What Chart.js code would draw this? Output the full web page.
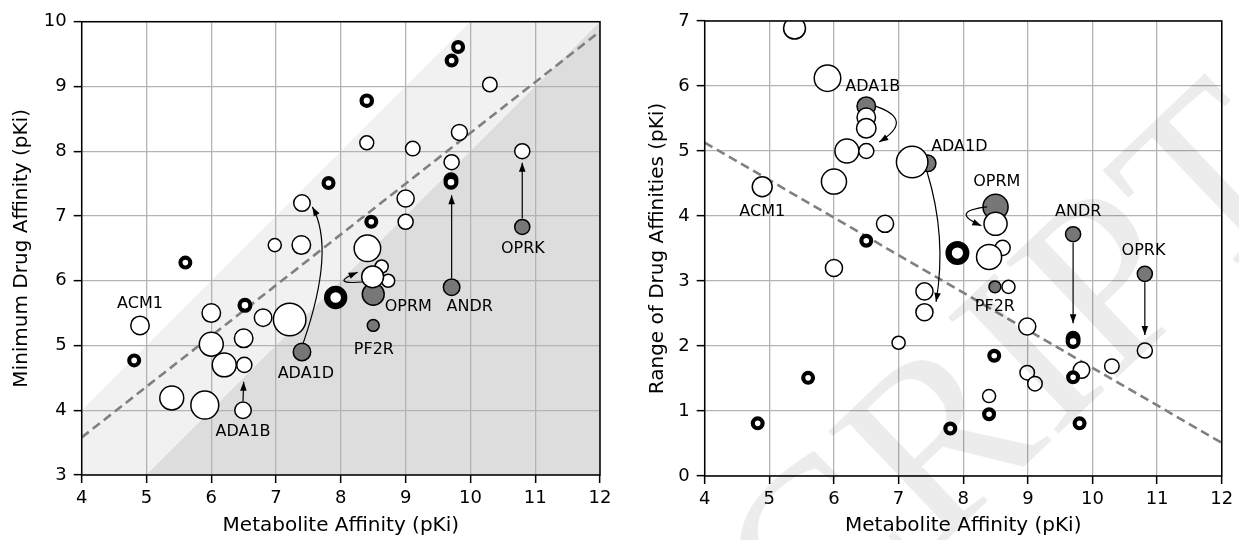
<!DOCTYPE html>
<html lang="en">
<head>
<meta charset="UTF-8" />
<title>Metabolite vs drug affinity</title>
<script src="https://cdn.jsdelivr.net/npm/chart.js@4.4.1/dist/chart.umd.min.js"></script>
<style>
  body { margin: 0; background: #fff; }
  .panel { position: absolute; top: 0; height: 540px; }
  #left { left: 0; width: 620px; }
  #right { left: 620px; width: 619px; }
</style>
</head>
<body>
<div class="panel" id="left"><canvas id="minChart" width="620" height="540"></canvas></div>
<div class="panel" id="right"><canvas id="rangeChart" width="619" height="540"></canvas></div>
<script>
// ---- left panel: metabolite pKi vs minimum drug pKi ----
// g = annotated receptor (grey), w = open circle, b = heavy ring, t = very heavy ring
const metabL = [7.40, 8.50, 8.50, 9.71, 10.80,
  4.90, 5.39, 5.90, 6.00, 6.00, 6.20, 6.51, 6.50, 6.49, 6.80,
  7.21, 6.98, 7.39, 7.40, 8.41, 8.63, 8.73, 8.49, 9.00, 9.00,
  8.40, 9.11, 9.83, 9.71, 10.30, 10.80,
  4.81, 5.60, 6.52, 7.81, 8.47, 8.40, 9.70, 9.70, 9.71, 9.81,
  7.92];
const minDrug = [4.90, 5.79, 5.31, 5.90, 6.83,
  5.31, 4.19, 4.08, 5.50, 5.02, 4.70, 4.70, 5.11, 4.00, 5.43,
  5.40, 6.55, 6.55, 7.20, 6.50, 6.22, 6.00, 6.06, 6.91, 7.27,
  8.13, 8.04, 8.29, 7.83, 9.03, 8.00,
  4.77, 6.28, 5.62, 7.51, 6.91, 8.78, 7.56, 7.52, 9.40, 9.61,
  5.74];
const magL = [9.5, 11.7, 6.7, 9, 8.3,
  10, 12.7, 14.7, 10, 12.7, 12.7, 8.3, 10, 9, 9.5,
  17, 7.3, 10, 9, 14, 7.3, 7.3, 11.7, 8.3, 9.3,
  7.7, 8, 8.7, 8.3, 8, 8.3,
  7, 7, 7.5, 7, 7, 7.3, 7.5, 7.5, 7, 7,
  11.7];
const kindL = [...'ggggg', ...'wwwwwwwwww', ...'wwwwwwwwww', ...'wwwwww', ...'bbbbbbbbbb', 't'];
const fitLx = [4, 12];
const fitLy = [3.58, 9.85];

// ---- right panel: metabolite pKi vs range of drug pKi ----
const metabR = [6.50, 7.45, 8.50, 8.49, 9.70, 10.81,
  5.39, 5.90, 6.50, 6.50, 6.20, 6.50, 6.00, 4.89, 7.21, 6.79,
  6.00, 7.40, 7.40, 7.00, 8.50, 8.61, 8.40, 8.70, 8.99, 10.81,
  10.30, 9.83, 8.99, 9.11, 8.40,
  4.82, 5.60, 6.50, 7.80, 8.48, 8.40, 9.70, 9.70, 9.70, 9.80,
  7.91];
const rangeDrug = [5.69, 4.81, 4.14, 2.91, 3.72, 3.11,
  6.89, 6.12, 5.52, 5.35, 5.00, 5.00, 4.53, 4.45, 4.83, 3.88,
  3.20, 2.84, 2.52, 2.05, 3.88, 3.51, 3.37, 2.91, 2.30, 1.93,
  1.69, 1.63, 1.59, 1.42, 1.23,
  0.81, 1.51, 3.62, 0.73, 1.85, 0.95, 2.12, 2.07, 1.52, 0.81,
  3.43];
const magR = [10, 9, 13.3, 6.7, 8.3, 8.3,
  11.7, 14, 10, 10.5, 12.7, 8.3, 13.3, 10.7, 16.5, 9.3,
  9.3, 9.3, 9.3, 7.3, 12.3, 8.3, 13.3, 7.3, 9.3, 8.3,
  8, 9, 8, 8, 7.3,
  7, 7, 7, 7, 7, 7, 7.5, 7.5, 7, 7,
  12];
const kindR = [...'gggggg', ...'wwwwwwwwww', ...'wwwwwwwwww', ...'wwwww', ...'bbbbbbbbbb', 't'];
const fitRx = [4, 12];
const fitRy = [5.13, 0.51];

// receptor labels and arrows, in data units
const notesL = [
  { text: 'ACM1', at: [4.90, 5.65] },
  { text: 'ADA1B', at: [6.49, 3.67] },
  { text: 'ADA1D', at: [7.46, 4.56] },
  { text: 'OPRM', at: [9.04, 5.60] },
  { text: 'ANDR', at: [9.99, 5.60] },
  { text: 'PF2R', at: [8.51, 4.94] },
  { text: 'OPRK', at: [10.81, 6.50] },
];
const arrowsL = [
  { from: [6.49, 4.14], to: [6.50, 4.44] },
  { from: [7.42, 5.04], via: [7.92, 6.49], to: [7.56, 7.14] },
  { from: [8.34, 5.98], via: [7.80, 5.94], to: [8.26, 6.13] },
  { from: [9.71, 6.04], to: [9.71, 7.32] },
  { from: [10.80, 6.96], to: [10.80, 7.82] },
];
const notesR = [
  { text: 'ADA1B', at: [6.60, 5.99] },
  { text: 'ADA1D', at: [7.94, 5.07] },
  { text: 'OPRM', at: [8.52, 4.52] },
  { text: 'ANDR', at: [9.78, 4.07] },
  { text: 'OPRK', at: [10.79, 3.47] },
  { text: 'PF2R', at: [8.49, 2.60] },
  { text: 'ACM1', at: [4.89, 4.07] },
];
const arrowsR = [
  { from: [6.64, 5.69], via: [7.26, 5.48], to: [6.70, 5.14] },
  { from: [7.44, 4.68], via: [7.75, 3.68], to: [7.58, 2.68] },
  { from: [8.37, 4.14], via: [7.77, 4.07], to: [8.28, 3.85] },
  { from: [9.70, 3.59], to: [9.70, 2.35] },
  { from: [10.81, 2.98], to: [10.81, 2.17] },
];

// shaded bands below y = x + offset (left panel)
const bandOffsets = [0, -2];
const bandColors = ['#f1f1f1', '#dddddd'];

const FONT = 'DejaVu Sans';
const STYLE = {
  g: { fill: '#777777', edge: 1.5 },
  w: { fill: '#ffffff', edge: 1.5 },
  b: { fill: '#ffffff', edge: 4.2 },
  t: { fill: '#ffffff', edge: 6.4 },
};
const LAYERS = ['g', 'w', 'b', 't'];

function markerSets(xs, ys, mags, kinds) {
  return LAYERS.map((k, li) => {
    const idx = [];
    kinds.forEach((kk, i) => { if (kk === k) idx.push(i); });
    const st = STYLE[k];
    return {
      type: 'scatter',
      data: idx.map(i => ({ x: xs[i], y: ys[i] })),
      pointRadius: idx.map(i => mags[i] - st.edge / 2),
      pointHoverRadius: idx.map(i => mags[i] - st.edge / 2),
      pointBorderWidth: st.edge,
      pointHoverBorderWidth: st.edge,
      pointBackgroundColor: st.fill,
      pointBorderColor: '#000',
      order: 4 - li,
    };
  });
}

function fitSet(xs, ys) {
  return {
    type: 'line',
    data: xs.map((x, i) => ({ x: x, y: ys[i] })),
    borderColor: '#808080',
    borderWidth: 2.6,
    borderDash: [9, 5],
    pointRadius: 0,
    fill: false,
    order: 5,
  };
}

const bandsPlugin = {
  id: 'bands',
  beforeDraw(chart, args, opts) {
    if (!opts.offsets) return;
    const { ctx, chartArea: a, scales: { x, y } } = chart;
    ctx.save();
    ctx.beginPath();
    ctx.rect(a.left, a.top, a.right - a.left, a.bottom - a.top);
    ctx.clip();
    opts.offsets.forEach((o, i) => {
      ctx.fillStyle = opts.colors[i];
      ctx.beginPath();
      ctx.moveTo(x.getPixelForValue(x.min), y.getPixelForValue(x.min + o));
      ctx.lineTo(x.getPixelForValue(x.max), y.getPixelForValue(x.max + o));
      ctx.lineTo(x.getPixelForValue(x.max), y.getPixelForValue(y.min));
      ctx.lineTo(x.getPixelForValue(x.min), y.getPixelForValue(y.min));
      ctx.closePath();
      ctx.fill();
    });
    ctx.restore();
  }
};

function arrowHead(ctx, tx, ty, dx, dy) {
  const len = Math.hypot(dx, dy) || 1;
  const ux = dx / len, uy = dy / len;
  const L = 9, W = 3.3;
  ctx.beginPath();
  ctx.moveTo(tx, ty);
  ctx.lineTo(tx - ux * L - uy * W, ty - uy * L + ux * W);
  ctx.lineTo(tx - ux * L + uy * W, ty - uy * L - ux * W);
  ctx.closePath();
  ctx.fill();
}

const notesPlugin = {
  id: 'notes',
  afterDatasetsDraw(chart, args, opts) {
    const { ctx, chartArea: a, scales: { x, y } } = chart;
    const px = p => [x.getPixelForValue(p[0]), y.getPixelForValue(p[1])];
    ctx.save();
    // frame
    ctx.strokeStyle = '#000';
    ctx.lineWidth = 1.5;
    ctx.strokeRect(a.left, a.top, a.right - a.left, a.bottom - a.top);
    // arrows
    ctx.fillStyle = '#000';
    ctx.lineWidth = 1.2;
    (opts.arrows || []).forEach(ar => {
      const [x0, y0] = px(ar.from);
      const [x2, y2] = px(ar.to);
      ctx.beginPath();
      ctx.moveTo(x0, y0);
      let dx, dy;
      if (ar.via) {
        const [x1, y1] = px(ar.via);
        ctx.quadraticCurveTo(x1, y1, x2, y2);
        dx = x2 - x1; dy = y2 - y1;
      } else {
        ctx.lineTo(x2, y2);
        dx = x2 - x0; dy = y2 - y0;
      }
      ctx.stroke();
      arrowHead(ctx, x2, y2, dx, dy);
    });
    // labels
    ctx.font = '16px "' + FONT + '"';
    ctx.textAlign = 'center';
    ctx.textBaseline = 'middle';
    (opts.notes || []).forEach(n => {
      const [lx, ly] = px(n.at);
      ctx.fillText(n.text, lx, ly);
    });
    ctx.restore();
  }
};

const watermarkPlugin = {
  id: 'watermark',
  afterDraw(chart, args, opts) {
    if (!opts.text) return;
    const ctx = chart.ctx;
    ctx.save();
    ctx.translate(opts.x, opts.y);
    ctx.rotate(opts.angle);
    ctx.font = opts.size + 'px "Liberation Serif"';
    ctx.fillStyle = 'rgba(0,0,0,0.075)';
    ctx.textBaseline = 'alphabetic';
    ctx.fillText(opts.text, 0, 0);
    ctx.restore();
  }
};

function axis(min, max, title, pad, fit) {
  return {
    type: 'linear',
    min: min,
    max: max,
    ticks: { stepSize: 1, color: '#000', font: { family: FONT, size: 18 }, padding: pad },
    grid: { color: '#b3b3b3', lineWidth: 1.3, tickColor: '#000', tickWidth: 1.5, tickLength: 8 },
    border: { display: false },
    title: { display: true, text: title, color: '#000', font: { family: FONT, size: 20 }, padding: fit.titlePad },
    afterFit: fit.fn,
  };
}

function makeChart(id, cfg) {
  return new Chart(document.getElementById(id), {
    type: 'scatter',
    data: { datasets: [fitSet(cfg.fitX, cfg.fitY)].concat(markerSets(cfg.xs, cfg.ys, cfg.mags, cfg.kinds)) },
    options: {
      responsive: false,
      animation: false,
      events: [],
      layout: { padding: cfg.padding },
      plugins: {
        legend: { display: false },
        tooltip: { enabled: false },
        bands: cfg.bands || {},
        notes: { notes: cfg.notes, arrows: cfg.arrows },
        watermark: cfg.watermark || {},
      },
      scales: {
        x: axis(4, 12, 'Metabolite Affinity (pKi)', 5,
          { titlePad: { top: 0, bottom: 2 }, fn: s => { s.height = cfg.xHeight; } }),
        y: axis(cfg.yMin, cfg.yMax, cfg.yTitle, 7,
          { titlePad: { top: cfg.yTitlePad, bottom: 0 }, fn: s => { s.width = cfg.yWidth; } }),
      },
    },
    plugins: [bandsPlugin, notesPlugin, watermarkPlugin],
  });
}

makeChart('minChart', {
  xs: metabL, ys: minDrug, mags: magL, kinds: kindL,
  fitX: fitLx, fitY: fitLy,
  yMin: 3, yMax: 10, yTitle: 'Minimum Drug Affinity (pKi)',
  yWidth: 81.7, xHeight: 65, yTitlePad: 10,
  padding: { top: 21.7, right: 20, bottom: 0, left: 0 },
  bands: { offsets: bandOffsets, colors: bandColors },
  notes: notesL, arrows: arrowsL,
});

makeChart('rangeChart', {
  xs: metabR, ys: rangeDrug, mags: magR, kinds: kindR,
  fitX: fitRx, fitY: fitRy,
  yMin: 0, yMax: 7, yTitle: 'Range of Drug Affinities (pKi)',
  yWidth: 84.7, xHeight: 64, yTitlePad: 26,
  padding: { top: 21, right: 15.7, bottom: 0, left: 0 },
  notes: notesR, arrows: arrowsR,
  watermark: { text: 'CRIPT', x: 195, y: 665, angle: -0.76, size: 245 },
});
</script>
</body>
</html>
